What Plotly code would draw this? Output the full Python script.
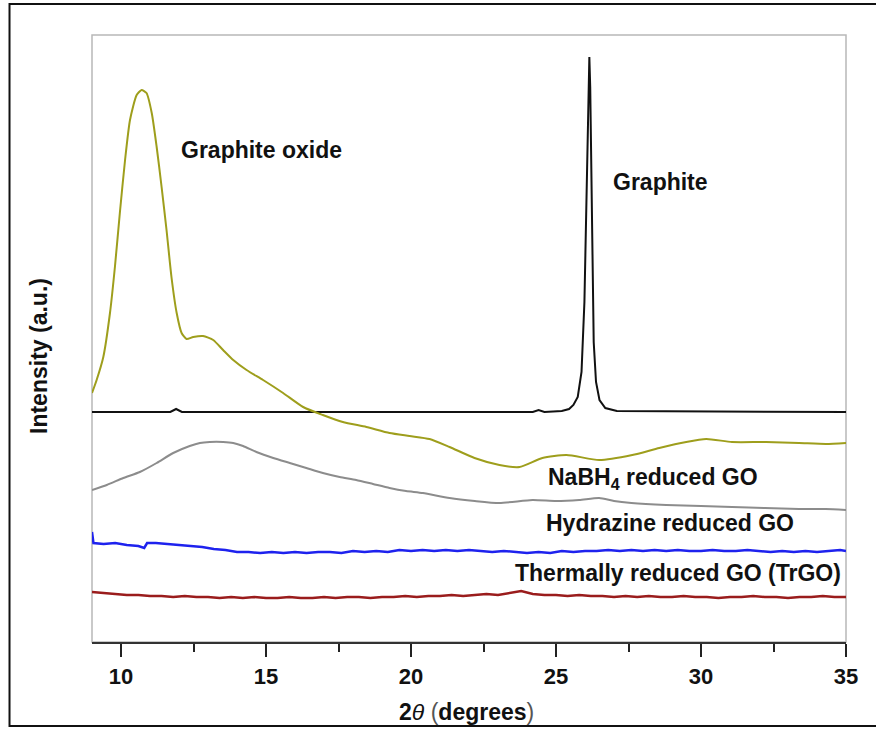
import plotly.graph_objects as go

# ---------------- data (arbitrary intensity units, stacked/offset as in figure) -------------
GO_X = [9.0, 9.16, 9.39, 9.62, 9.79, 9.96, 10.14, 10.31, 10.54, 10.71, 10.88, 11.06, 11.23,
        11.40, 11.57, 11.74, 11.92, 12.09, 12.26, 12.49, 12.83, 13.18, 13.52, 13.87, 14.33,
        14.90, 15.59, 16.28, 16.96, 17.65, 18.46, 19.26, 19.95, 20.64, 21.33, 22.19, 23.05,
        23.74, 24.53, 25.36, 26.49, 27.63, 28.56, 29.49, 30.18, 31.07, 32.24, 33.38, 34.31, 35.0]
GO_Y = [249, 262, 285, 329, 375, 429, 482, 522, 547, 552, 549, 529, 495,
        455, 412, 365, 329, 309, 303, 305, 306, 302, 292, 282, 272,
        262, 249, 235, 227, 220, 215, 209, 206, 203, 195, 184, 177,
        175, 184, 187, 182, 187, 194, 200, 203, 200, 200, 199, 198, 199]

GRAPHITE_X = [9.0, 11.7, 11.9, 12.1, 24.2, 24.4, 24.6, 25.2, 25.45, 25.6, 25.75, 25.88, 25.98,
              26.06, 26.12, 26.15, 26.18, 26.22, 26.25, 26.3, 26.38, 26.5, 26.7, 27.1, 35.0]
GRAPHITE_Y = [230, 230, 233, 230, 230, 232, 230, 231, 233, 237, 245, 270, 340,
              470, 560, 585, 555, 470, 380, 300, 260, 242, 234, 231, 230]

NABH4_X = [9.0, 9.51, 10.08, 10.65, 11.23, 11.80, 12.37, 12.72, 13.06, 13.52, 13.87, 14.21,
           14.67, 15.25, 15.82, 16.39, 16.96, 17.54, 18.11, 18.69, 19.26, 19.83, 20.41, 21.33,
           22.2, 23.05, 24.19, 25.0, 25.8, 26.49, 27.0, 27.6, 28.8, 30.0, 31.07, 32.2, 33.38,
           34.3, 35.0]
NABH4_Y = [152, 157, 164, 170, 179, 189, 196, 199, 200, 200, 199, 196,
           190, 184, 179, 174, 169, 165, 162, 158, 154, 151, 149, 144,
           141, 139, 142, 141, 142, 144, 141, 139, 137, 136, 135, 134, 133,
           133, 132]

HYDRAZINE_X = [9.0, 9.05, 9.4, 9.8, 10.2, 10.6, 10.8, 10.9, 11.2, 11.6, 12.0,
               12.4, 12.8, 13.2, 13.6, 14.0, 14.4, 14.8, 15.2, 15.6, 16.0, 16.4, 16.8,
               17.2, 17.6, 18.0, 18.4, 18.8, 19.2, 19.6, 20.0, 20.4, 20.8, 21.2, 21.6,
               22.0, 22.4, 22.8, 23.2, 23.6, 24.0, 24.4, 24.8, 25.2, 25.6, 26.0, 26.4,
               26.8, 27.2, 27.6, 28.0, 28.4, 28.8, 29.2, 29.6, 30.0, 30.4, 30.8, 31.2,
               31.6, 32.0, 32.4, 32.8, 33.2, 33.6, 34.0, 34.4, 34.8, 35.0]
HYDRAZINE_Y = [110, 99, 98, 99, 97, 96, 94, 99, 99, 98, 97,
               96, 95, 93, 92, 90, 90, 89, 90, 89, 90, 89, 90,
               90, 89, 91, 90, 91, 90, 92, 91, 92, 91, 92, 91,
               92, 91, 90, 91, 90, 89, 90, 89, 91, 90, 91, 91,
               92, 91, 92, 91, 92, 91, 92, 91, 91, 92, 91, 91,
               92, 91, 90, 91, 90, 91, 90, 91, 92, 91]

TRGO_X = [9.0, 9.4, 9.8, 10.2, 10.6, 11.0, 11.4, 11.8, 12.2, 12.6, 13.0, 13.4, 13.8,
          14.2, 14.6, 15.0, 15.4, 15.8, 16.2, 16.6, 17.0, 17.4, 17.8, 18.2, 18.6,
          19.0, 19.4, 19.8, 20.2, 20.6, 21.0, 21.4, 21.8, 22.2, 22.6, 23.0, 23.4,
          23.8, 24.2, 24.6, 25.0, 25.4, 25.8, 26.2, 26.6, 27.0, 27.4, 27.8, 28.2,
          28.6, 29.0, 29.4, 29.8, 30.2, 30.6, 31.0, 31.4, 31.8, 32.2, 32.6, 33.0,
          33.4, 33.8, 34.2, 34.6, 35.0]
TRGO_Y = [50, 49, 48, 47, 47, 46, 46, 45, 46, 45, 45, 44, 45,
          44, 45, 44, 44, 45, 44, 44, 45, 44, 45, 45, 44,
          45, 45, 46, 45, 46, 46, 47, 46, 47, 48, 47, 49,
          51, 48, 47, 47, 46, 47, 46, 46, 45, 46, 45, 46,
          45, 45, 46, 45, 45, 44, 45, 45, 46, 45, 45, 44,
          45, 45, 46, 45, 45]

X_TICKS = [10, 15, 20, 25, 30, 35]

LABELS = ["Graphite oxide", "Graphite", "NaBH<sub>4</sub> reduced GO",
          "Hydrazine reduced GO", "Thermally reduced GO (TrGO)"]
LABEL_X = [14.85, 28.59, 28.35, 28.94, 29.21]
LABEL_Y = [492, 460, 164, 119, 69]

# ---------------- figure ----------------
FONT = "Liberation Sans, Arial, sans-serif"
fig = go.Figure()

fig.add_trace(go.Scatter(x=TRGO_X, y=TRGO_Y, mode="lines",
                         line=dict(color="#9a1c1c", width=2.5)))
fig.add_trace(go.Scatter(x=HYDRAZINE_X, y=HYDRAZINE_Y, mode="lines",
                         line=dict(color="#1e22ee", width=2.5)))
fig.add_trace(go.Scatter(x=NABH4_X, y=NABH4_Y, mode="lines",
                         line=dict(color="#8c8c8c", width=2, shape="spline", smoothing=0.6)))
fig.add_trace(go.Scatter(x=GRAPHITE_X, y=GRAPHITE_Y, mode="lines",
                         line=dict(color="#111111", width=2)))
fig.add_trace(go.Scatter(x=GO_X, y=GO_Y, mode="lines",
                         line=dict(color="#9e9e1c", width=2, shape="spline", smoothing=0.6)))

for t, lx, ly in zip(LABELS, LABEL_X, LABEL_Y):
    fig.add_annotation(x=lx, y=ly, xref="x", yref="y", text="<b>%s</b>" % t,
                       showarrow=False, xanchor="center", yanchor="middle",
                       font=dict(family=FONT, size=23, color="#111111"))

# axis titles
fig.add_annotation(x=0.497, y=-0.115, xref="paper", yref="paper",
                   text="<b>2</b><i>θ</i> <span style='color:#555'>(</span><b>degrees</b><span style='color:#555'>)</span>",
                   showarrow=False, xanchor="center", yanchor="middle",
                   font=dict(family=FONT, size=23, color="#111111"))
fig.add_annotation(x=-0.0703, y=0.4712, xref="paper", yref="paper",
                   text="<b>Intensity (a.u.)</b>", showarrow=False, textangle=-90,
                   xanchor="center", yanchor="middle",
                   font=dict(family=FONT, size=23, color="#111111"))

# plot frame (light gray) and outer figure frame
fig.add_shape(type="rect", xref="paper", yref="paper", x0=0, x1=1, y0=0, y1=1,
              line=dict(color="#b8b8b8", width=1.5), layer="below")
fig.add_shape(type="rect", xref="paper", yref="paper",
              x0=-0.1094, x1=1.2, y0=-0.1384, y1=1.0511,
              line=dict(color="#111111", width=2))

fig.update_layout(
    width=876, height=729,
    margin=dict(l=92, r=30, t=35, b=87),
    paper_bgcolor="white", plot_bgcolor="white",
    showlegend=False,
    xaxis=dict(range=[9, 35], tickvals=X_TICKS, ticks="outside", ticklen=13,
               tickwidth=2, tickcolor="#222222", showline=True, linecolor="#333333",
               linewidth=2, showgrid=False, zeroline=False, ticklabelstandoff=1,
               tickfont=dict(family=FONT, size=22, color="#111111", weight="bold"),
               minor=dict(ticks="outside", ticklen=8, tickwidth=2, tickcolor="#222222",
                          tickvals=[12.5, 17.5, 22.5, 27.5, 32.5])),
    yaxis=dict(range=[0, 607], showticklabels=False, ticks="", showgrid=False,
               zeroline=False, showline=False),
)

fig.write_html("out.html")
